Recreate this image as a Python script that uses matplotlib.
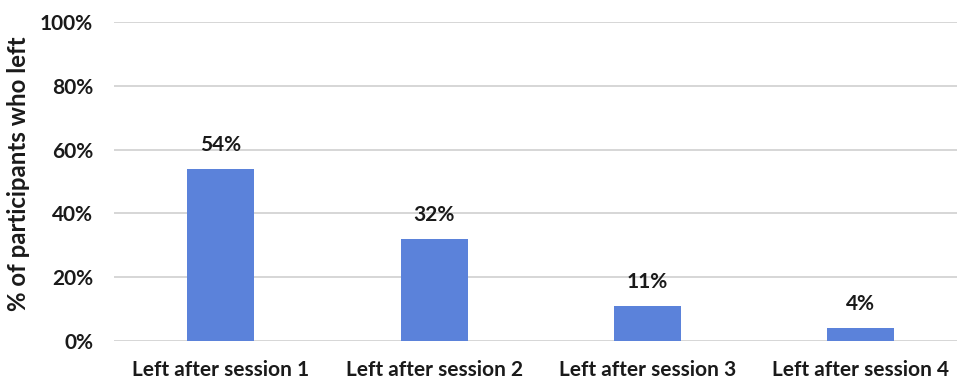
import matplotlib
matplotlib.use("Agg")
import matplotlib.pyplot as plt
from matplotlib.ticker import FuncFormatter

categories = ["Left after session 1", "Left after session 2",
              "Left after session 3", "Left after session 4"]
percent_left = [54, 32, 11, 4]
y_ticks = [0, 20, 40, 60, 80, 100]

plt.rcParams["font.family"] = ["Lato", "DejaVu Sans"]
plt.rcParams["font.weight"] = "bold"

W, H = 957, 381
fig = plt.figure(figsize=(W / 100, H / 100), dpi=100)
ax = fig.add_axes([114 / W, (H - 341) / H, (957 - 114) / W, (341 - 22) / H])

x = range(len(categories))
bars = ax.bar(x, percent_left, width=0.314, color="#5B82DA", zorder=3)

for xi, v in zip(x, percent_left):
    ax.annotate(f"{v}%", (xi, v), xytext=(0, 10), textcoords="offset points",
                ha="center", va="bottom", fontsize=15, fontweight="bold",
                color="#1a1a1a")

ax.set_ylim(0, 100)
ax.set_xlim(-0.5, 3.45)
ax.set_yticks(y_ticks)
ax.yaxis.set_major_formatter(FuncFormatter(lambda v, p: f"{v:.0f}%"))
ax.set_xticks(list(x))
ax.set_xticklabels(categories)
ax.tick_params(axis="both", length=0, labelsize=15, colors="#1a1a1a")
ax.tick_params(axis="x", pad=14)
ax.tick_params(axis="y", pad=15)
for lab in ax.get_xticklabels() + ax.get_yticklabels():
    lab.set_fontweight("bold")

ax.grid(axis="y", color="#D0D0D0", linewidth=1.2, zorder=0)
for s in ax.spines.values():
    s.set_visible(False)

fig.text(19 / W, 1 - 174 / H, "% of participants who left", rotation=90,
         ha="center", va="center", fontsize=17.3, fontweight="bold",
         color="#1a1a1a")

fig.savefig("out.png", dpi=100)
